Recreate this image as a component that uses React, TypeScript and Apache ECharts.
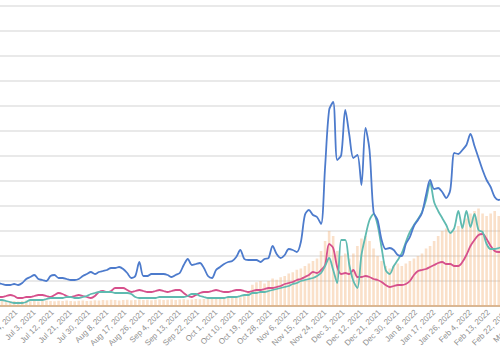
import React, { useEffect, useRef } from "react";
import * as echarts from "echarts";

const MONTHS = ["Jan", "Feb", "Mar", "Apr", "May", "Jun", "Jul", "Aug", "Sep", "Oct", "Nov", "Dec"];
const NUM_DAYS = 263;
const dates: string[] = Array.from({ length: NUM_DAYS }, (_, i) => {
  const d = new Date(2021, 5, 15 + i);
  return `${MONTHS[d.getMonth()]} ${d.getDate()}, ${d.getFullYear()}`;
});
const STEP = 2; // one sample every two days

const blue = [0.92,0.88,0.84,0.84,0.88,0.84,0.92,1.08,1.16,1.24, 1.08,1.04,1.0,1.2,1.24,1.12,1.12,1.08,1.04,1.04,
  1.08,1.2,1.28,1.36,1.28,1.36,1.4,1.44,1.52,1.52, 1.56,1.48,1.32,1.12,1.2,1.76,1.2,1.2,1.28,1.28,
  1.28,1.28,1.24,1.16,1.24,1.32,1.64,1.88,1.64,1.68, 1.72,1.52,1.2,1.12,1.44,1.56,1.68,1.76,1.8,1.96,
  2.24,1.88,1.84,1.84,1.84,1.76,1.88,1.92,2.4,2.08, 1.92,2.04,2.28,2.24,2.16,2.56,3.64,3.84,3.64,3.56,
  3.28,5.56,7.84,8.16,5.84,6.04,7.84,6.84,5.92,6.04, 4.84,7.12,6.24,3.76,3.44,2.64,2.28,2.32,2.24,2.04,
  2.0,2.48,2.76,3.2,3.44,3.72,4.44,5.04,4.68,4.72, 4.56,4.32,4.64,6.12,6.08,6.24,6.44,6.88,6.4,5.92,
  5.44,5.04,4.76,4.36,4.24,4.32];

const teal = [0.24,0.24,0.2,0.16,0.12,0.12,0.12,0.16,0.24,0.24, 0.24,0.24,0.28,0.32,0.32,0.32,0.32,0.36,0.36,0.32,
  0.32,0.36,0.4,0.48,0.52,0.56,0.56,0.56,0.56,0.52, 0.52,0.52,0.52,0.48,0.36,0.32,0.32,0.32,0.32,0.32,
  0.36,0.36,0.36,0.36,0.36,0.36,0.36,0.4,0.48,0.48, 0.4,0.36,0.32,0.32,0.32,0.32,0.32,0.36,0.36,0.36,
  0.4,0.44,0.44,0.52,0.52,0.56,0.56,0.6,0.64,0.68, 0.72,0.76,0.8,0.88,0.92,1.0,1.04,1.08,1.12,1.2,
  1.32,1.6,1.92,1.44,0.92,2.64,2.64,1.64,1.0,0.72, 2.04,2.8,3.44,3.68,3.24,2.32,1.44,1.28,1.6,1.84,
  2.12,2.56,2.96,3.24,3.48,3.76,4.24,4.92,4.16,3.8, 3.52,3.24,2.92,3.12,3.8,3.12,3.8,3.16,3.68,3.04,
  2.96,2.48,2.28,2.28,2.32,2.36];

const pink = [0.36,0.36,0.4,0.44,0.4,0.32,0.32,0.36,0.36,0.4, 0.44,0.44,0.4,0.36,0.44,0.52,0.48,0.4,0.36,0.4,
  0.44,0.4,0.36,0.32,0.4,0.56,0.6,0.56,0.6,0.72, 0.72,0.72,0.64,0.56,0.6,0.64,0.6,0.56,0.56,0.6,
  0.64,0.6,0.56,0.6,0.64,0.64,0.52,0.4,0.36,0.44, 0.52,0.56,0.56,0.6,0.64,0.6,0.56,0.56,0.6,0.64,
  0.64,0.6,0.56,0.6,0.64,0.64,0.68,0.72,0.72,0.76, 0.8,0.88,0.92,0.96,1.04,1.08,1.16,1.24,1.36,1.32,
  1.44,1.64,2.48,2.32,1.56,1.28,1.32,1.28,1.44,1.16, 1.16,1.2,1.16,1.08,1.04,0.96,0.84,0.76,0.8,0.84,
  0.84,0.88,1.0,1.24,1.4,1.44,1.48,1.56,1.64,1.72, 1.76,1.68,1.68,1.6,1.6,1.76,2.04,2.4,2.64,2.84,
  2.88,2.68,2.4,2.2,2.16,2.16];

const bars = [0.18,0.2,0.17,0.19,0.2,0.18,0.2,0.22,0.19,0.2, 0.18,0.2,0.22,0.2,0.19,0.21,0.2,0.22,0.2,0.19,
  0.21,0.22,0.2,0.21,0.23,0.22,0.24,0.23,0.25,0.24, 0.22,0.24,0.25,0.23,0.24,0.26,0.24,0.25,0.23,0.25,
  0.26,0.24,0.25,0.26,0.24,0.26,0.27,0.25,0.26,0.28, 0.27,0.28,0.3,0.29,0.3,0.32,0.3,0.33,0.34,0.32,
  0.35,0.4,0.6,0.85,0.95,1.0,0.9,1.0,1.1,1.05, 1.15,1.2,1.3,1.35,1.45,1.5,1.6,1.7,1.8,1.9,
  2.2,2.6,3.0,2.8,2.2,2.0,2.1,1.9,2.1,2.4, 2.7,2.8,2.6,2.3,2.0,1.8,1.6,1.5,1.6,1.7,
  1.6,1.7,1.8,1.9,2.0,2.1,2.3,2.4,2.6,2.8, 3.0,3.1,2.9,3.0,3.2,3.3,3.5,3.7,3.8,3.9,
  3.7,3.6,3.7,3.8,3.6,3.6];

const toPairs = (arr: number[]) => arr.map((v, k) => [k * STEP, v]);

export default function App() {
  const ref = useRef<HTMLDivElement>(null);
  useEffect(() => {
    if (!ref.current) return;
    const chart = echarts.init(ref.current, undefined, { renderer: "svg" });
    const lineCommon = {
      type: "line" as const,
      showSymbol: false,
      smooth: 0.3,
      z: 3,
    };
    chart.setOption({
      animation: false,
      backgroundColor: "#ffffff",
      grid: {
        left: -2,
        right: -27,
        top: 6,
        bottom: 44,
        containLabel: false,
        outerBoundsMode: "none",
      },
      xAxis: {
        type: "category",
        data: dates,
        boundaryGap: false,
        axisLine: { show: true, lineStyle: { color: "#d6b898", width: 2 } },
        axisTick: { show: false },
        axisLabel: {
          interval: 8,
          rotate: 45,
          fontSize: 8,
          color: "#8f8f8f",
          fontFamily: "Liberation Sans, Arial, sans-serif",
          margin: 5,
          hideOverlap: false,
        },
        splitLine: { show: false },
      },
      yAxis: {
        type: "value",
        min: 0,
        max: 12,
        interval: 1,
        axisLabel: { show: false },
        axisLine: { show: false },
        axisTick: { show: false },
        splitLine: { show: true, lineStyle: { color: "#e9e9e9", width: 2 } },
      },
      series: [
        {
          type: "bar",
          data: toPairs(bars),
          barWidth: 2.6,
          itemStyle: { color: "rgba(243,178,120,0.4)" },
          z: 2,
        },
        { ...lineCommon, data: toPairs(pink), lineStyle: { color: "#d6508c", width: 1.8 }, itemStyle: { color: "#d6508c" } },
        { ...lineCommon, data: toPairs(teal), lineStyle: { color: "#5fbab0", width: 1.8 }, itemStyle: { color: "#5fbab0" } },
        { ...lineCommon, data: toPairs(blue), lineStyle: { color: "#4d7bcc", width: 1.8 }, itemStyle: { color: "#4d7bcc" } },
      ],
    });
    return () => chart.dispose();
  }, []);
  return (
    <div
      ref={ref}
      style={{ position: "fixed", left: 0, top: 0, width: 500, height: 350, background: "#fff" }}
    />
  );
}
